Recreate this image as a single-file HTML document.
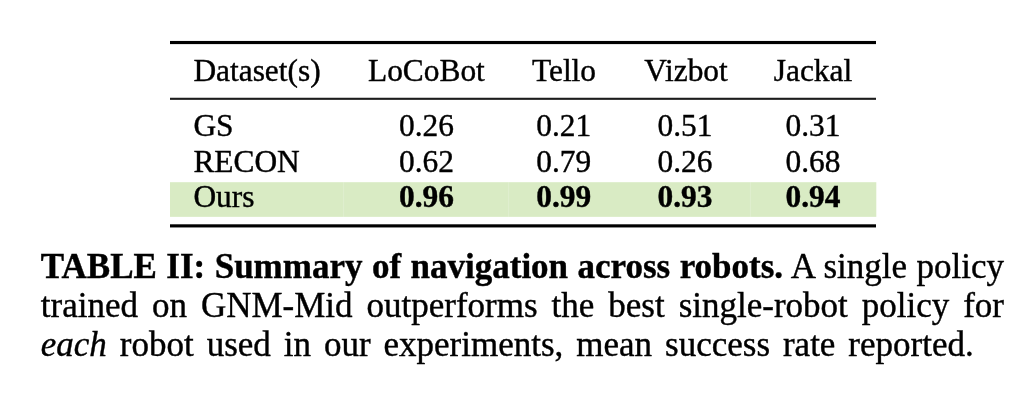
<!DOCTYPE html>
<html>
<head>
<meta charset="utf-8">
<title>Table II</title>
<style>
html,body{margin:0;padding:0;background:#fff;}
body{width:1024px;height:403px;position:relative;overflow:hidden;font-family:"Liberation Serif",serif;color:#000;}
.lines{position:absolute;left:0;top:0;}
#txt{-webkit-text-stroke:0.4px #000;position:absolute;left:0;top:0;width:1024px;height:403px;will-change:transform;}
.t{position:absolute;font-size:31.4px;line-height:36px;height:36px;white-space:nowrap;}
.c{text-align:center;width:200px;}
.b{font-weight:bold;}
.cap{position:absolute;left:40.8px;width:963.2px;font-size:35px;line-height:40px;height:40px;white-space:nowrap;text-align:justify;text-align-last:justify;}
.cap.last{text-align:left;text-align-last:left;}
</style>
</head>
<body>
<svg class="lines" width="1024" height="403" viewBox="0 0 1024 403">
<rect x="170" y="182.2" width="706.3" height="34.65" fill="#d9ebc4"/>
<rect x="343.2" y="182.2" width="0.9" height="34.65" fill="#fff" fill-opacity="0.22"/>
<rect x="508.2" y="182.2" width="0.9" height="34.65" fill="#fff" fill-opacity="0.22"/>
<rect x="749.9" y="182.2" width="0.9" height="34.65" fill="#fff" fill-opacity="0.22"/>
<rect x="170" y="40.95" width="706" height="3.15" fill="#000"/>
<rect x="170" y="97.75" width="706" height="2.1" fill="#1c1c1c"/>
<rect x="170" y="224.3" width="706" height="3.15" fill="#000"/>
</svg>
<div id="txt">

<div class="t" style="left:193.4px;top:52.6px;">Dataset(s)</div>
<div class="t c" style="left:326.4px;top:52.6px;">LoCoBot</div>
<div class="t c" style="left:464px;top:52.6px;">Tello</div>
<div class="t c" style="left:586px;top:52.6px;">Vizbot</div>
<div class="t c" style="left:713px;top:52.6px;">Jackal</div>

<div class="t" style="left:193.4px;top:108.1px;">GS</div>
<div class="t c" style="left:326.5px;top:108.1px;">0.26</div>
<div class="t c" style="left:463.75px;top:108.1px;">0.21</div>
<div class="t c" style="left:585px;top:108.1px;">0.51</div>
<div class="t c" style="left:713px;top:108.1px;">0.31</div>

<div class="t" style="left:193.4px;top:143.6px;">RECON</div>
<div class="t c" style="left:326.5px;top:143.6px;">0.62</div>
<div class="t c" style="left:463.75px;top:143.6px;">0.79</div>
<div class="t c" style="left:585px;top:143.6px;">0.26</div>
<div class="t c" style="left:713px;top:143.6px;">0.68</div>

<div class="t" style="left:193.4px;top:178.6px;">Ours</div>
<div class="t c b" style="left:326.5px;top:178.6px;">0.96</div>
<div class="t c b" style="left:463.75px;top:178.6px;">0.99</div>
<div class="t c b" style="left:585px;top:178.6px;">0.93</div>
<div class="t c b" style="left:713px;top:178.6px;">0.94</div>

<div class="cap" style="top:247.3px;"><b>TABLE II: Summary of navigation across robots.</b> A single policy</div>
<div class="cap" style="top:286.3px;">trained on GNM-Mid outperforms the best single-robot policy for</div>
<div class="cap last" style="top:325.2px;word-spacing:4.2px;"><i>each</i> robot used in our experiments, mean success rate reported.</div>
</div>
</body>
</html>
